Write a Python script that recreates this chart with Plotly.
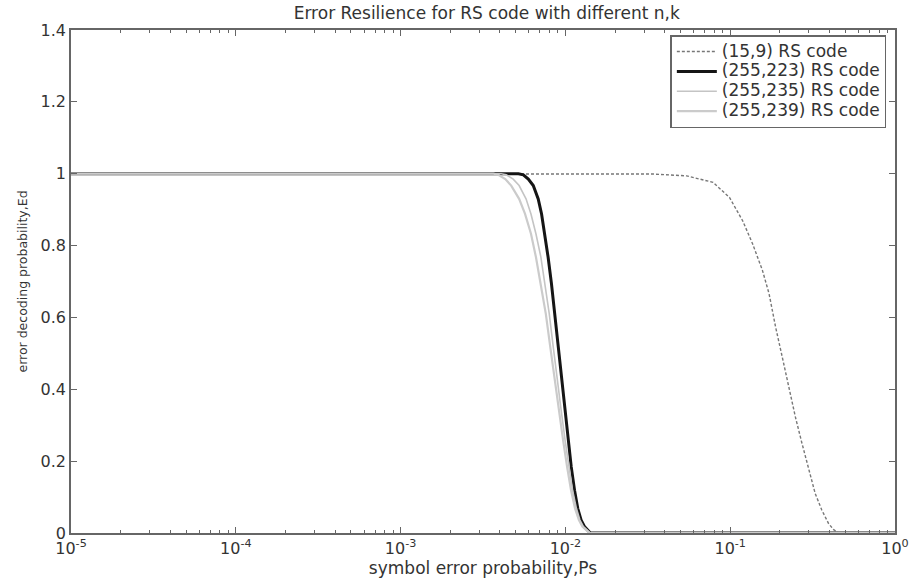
import plotly.graph_objects as go

# (15,9) RS code
ps_15_9 = [1e-5, 1e-3, 0.01, 0.0343, 0.0544, 0.0786, 0.0990, 0.1190, 0.1367, 0.1569, 0.1721,
           0.1886, 0.2069, 0.2269, 0.2486, 0.2728, 0.2992, 0.3279, 0.3596, 0.3945, 0.4227, 0.4529, 1.0]
ed_15_9 = [1.0, 1.0, 1.0, 0.999, 0.994, 0.976, 0.934, 0.869, 0.805, 0.731, 0.666,
           0.573, 0.490, 0.406, 0.323, 0.249, 0.175, 0.110, 0.064, 0.027, 0.010, 0.0, 0.0]

# (255,223) RS code
ps_255_223 = [1e-5, 1e-3, 0.005187, 0.005558, 0.005956, 0.006382, 0.006839, 0.007168, 0.007503,
              0.007852, 0.008229, 0.008613, 0.009016, 0.009449, 0.00989, 0.01035, 0.01085,
              0.01136, 0.01189, 0.01246, 0.01304, 0.01365, 0.01417, 1.0]
ed_255_223 = [1.0, 1.0, 1.0, 0.997, 0.985, 0.967, 0.930, 0.888, 0.833,
              0.768, 0.694, 0.610, 0.518, 0.425, 0.342, 0.258, 0.184,
              0.119, 0.068, 0.036, 0.018, 0.008, 0.0, 0.0]

# (255,235) RS code
ps_255_235 = [1e-5, 1e-3, 0.004083, 0.004377, 0.004822, 0.005238, 0.005769, 0.006182, 0.006625,
              0.007099, 0.007503, 0.007982, 0.008436, 0.008917, 0.009424, 0.009959, 0.01052,
              0.01105, 0.01167, 0.01225, 0.01286, 0.0135, 0.0142, 1.0]
ed_255_235 = [1.0, 1.0, 1.0, 0.997, 0.985, 0.967, 0.930, 0.888, 0.833,
              0.768, 0.694, 0.610, 0.518, 0.425, 0.342, 0.258, 0.184,
              0.119, 0.068, 0.036, 0.018, 0.008, 0.0, 0.0]

# (255,239) RS code
ps_255_239 = [1e-5, 1e-3, 0.003656, 0.003917, 0.004317, 0.00469, 0.005238, 0.00569, 0.006182,
              0.006625, 0.007099, 0.007607, 0.008093, 0.008613, 0.009167, 0.009687, 0.01024,
              0.01082, 0.01144, 0.01208, 0.01268, 0.01341, 0.0140, 1.0]
ed_255_239 = [1.0, 1.0, 1.0, 0.997, 0.985, 0.967, 0.930, 0.888, 0.833,
              0.768, 0.694, 0.610, 0.518, 0.425, 0.342, 0.258, 0.184,
              0.119, 0.068, 0.036, 0.018, 0.008, 0.0, 0.0]

series_names = ["(15,9) RS code", "(255,223) RS code", "(255,235) RS code", "(255,239) RS code"]

x_ticks = [1e-5, 1e-4, 1e-3, 1e-2, 1e-1, 1e0]
x_tick_labels = ["10<sup>-5</sup>", "10<sup>-4</sup>", "10<sup>-3</sup>",
                 "10<sup>-2</sup>", "10<sup>-1</sup>", "10<sup>0</sup>"]
y_ticks = [0, 0.2, 0.4, 0.6, 0.8, 1.0, 1.2, 1.4]
y_tick_labels = ["0", "0.2", "0.4", "0.6", "0.8", "1", "1.2", "1.4"]

FONT = "DejaVu Sans"
TXT = "#333333"


def legend_name(s):
    return '<span style="font-size:17px">' + s + '</span>'


fig = go.Figure()
fig.add_trace(go.Scatter(x=ps_15_9, y=ed_15_9, mode="lines", name=legend_name(series_names[0]),
                         line=dict(color="#777777", width=1.4, dash="3px,2px")))
fig.add_trace(go.Scatter(x=ps_255_223, y=ed_255_223, mode="lines", name=legend_name(series_names[1]),
                         line=dict(color="#151515", width=3)))
fig.add_trace(go.Scatter(x=ps_255_235, y=ed_255_235, mode="lines", name=legend_name(series_names[2]),
                         line=dict(color="#c4c4c4", width=1.6)))
fig.add_trace(go.Scatter(x=ps_255_239, y=ed_255_239, mode="lines", name=legend_name(series_names[3]),
                         line=dict(color="#cbcbcb", width=2.2)))

axis_common = dict(showline=True, linecolor="#666666", linewidth=1.5, mirror="ticks",
                   ticks="inside", tickcolor="#666666", showgrid=False, zeroline=False,
                   tickfont=dict(family=FONT, size=16, color=TXT))

fig.update_xaxes(type="log", range=[-5, 0], tickvals=x_ticks, ticktext=x_tick_labels,
                 ticklen=6,
                 minor=dict(ticks="inside", ticklen=3, tickcolor="#666666", dtick="D1", showgrid=False),
                 title=dict(text="symbol error probability,Ps", standoff=2,
                            font=dict(family=FONT, size=17, color=TXT)),
                 **axis_common)
fig.update_yaxes(range=[0, 1.4], tickvals=y_ticks, ticktext=y_tick_labels, ticklen=6,
                 title=dict(text="error decoding probability,Ed", standoff=10,
                            font=dict(family=FONT, size=12.5, color=TXT)),
                 **axis_common)

fig.update_layout(
    width=921, height=584,
    margin=dict(l=71, r=17, t=30, b=51),
    paper_bgcolor="white", plot_bgcolor="white",
    title=dict(text="Error Resilience for RS code with different n,k", x=0.5285, xanchor="center",
               y=0.978, yanchor="middle",
               font=dict(family=FONT, size=17, color=TXT)),
    showlegend=True,
    legend=dict(x=0.9895, xanchor="right", y=0.99, yanchor="top",
                bgcolor="white", bordercolor="#666666", borderwidth=1.5,
                font=dict(family=FONT, size=13, color="#333333"),
                tracegroupgap=0, itemwidth=40),
)

fig.write_html("out.html")
